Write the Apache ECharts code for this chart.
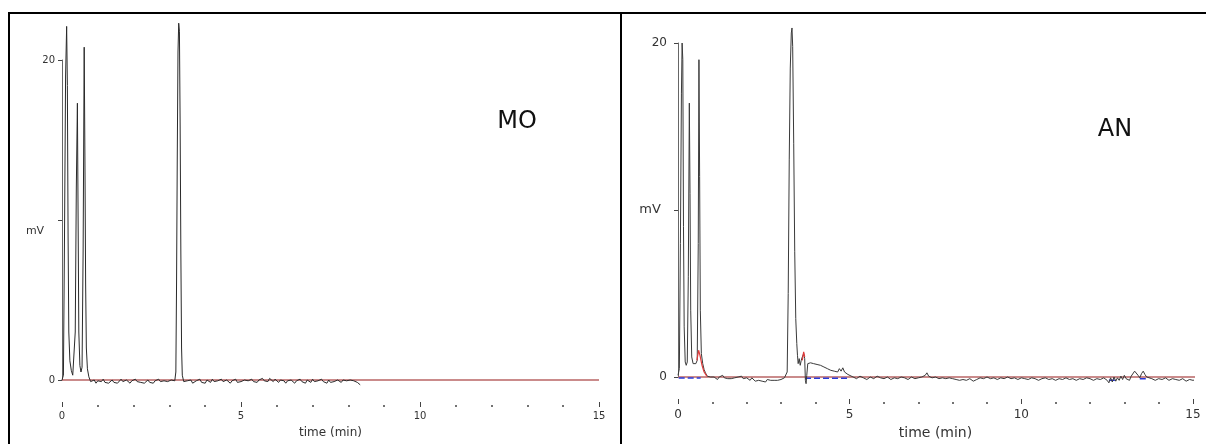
<!DOCTYPE html>
<html>
<head>
<meta charset="utf-8">
<script src="https://cdn.jsdelivr.net/npm/echarts@6/dist/echarts.min.js"></script>
<style>
  html, body { margin: 0; padding: 0; background: #fff; }
  #main { width: 1206px; height: 444px; }
</style>
</head>
<body>
<div id="main"></div>
<script>
// x axis ticks (min) and y ticks (mV)
var timeTicks = [0, 5, 10, 15];
var mvTicks = [0, 10, 20];

// MO chromatogram: [time, mV]
var moTrace = [
    [0.00,0.0],[0.04,0.3],[0.07,9],[0.10,19],[0.13,22.1],[0.15,18.4],[0.17,9],[0.19,3],[0.22,1.2],[0.26,0.6],
    [0.30,0.3],[0.34,0.4],[0.37,3],[0.40,12],[0.43,17.3],[0.45,10],[0.47,3],[0.50,0.9],[0.53,0.5],[0.56,0.8],
    [0.59,8],[0.62,20.8],[0.64,14],[0.66,6],[0.68,2],[0.71,0.7],[0.75,0.2],[0.80,-0.1],
    [0.85,-0.15],[0.90,0.00],[0.95,-0.20],[1.00,-0.05],[1.05,-0.15],[1.10,-0.10],[1.15,0.05],[1.20,-0.15],
    [1.25,-0.05],[1.30,-0.20],[1.35,-0.10],[1.40,0.00],[1.45,-0.15],[1.50,-0.05],[1.55,-0.20],[1.60,-0.10],
    [1.65,0.05],[1.70,-0.10],[1.75,-0.15],[1.80,0.00],[1.85,-0.10],[1.90,-0.20],[1.95,-0.05],[2.00,-0.15],
    [2.05,0.05],[2.10,-0.10],[2.15,-0.20],[2.20,-0.15],[2.25,-0.05],[2.30,-0.20],[2.35,-0.10],[2.40,0.00],
    [2.45,-0.15],[2.50,-0.10],[2.55,-0.20],[2.60,-0.05],[2.65,-0.15],[2.70,0.05],[2.75,-0.10],[2.80,-0.20],
    [2.85,-0.05],[2.90,-0.15],[2.95,-0.10],[3.00,-0.20],[3.05,0.00],[3.10,-0.10],[3.15,-0.05],
    [3.18,0.5],[3.20,6],[3.22,14],[3.24,20.5],[3.26,22.3],[3.28,21.8],[3.30,16],[3.32,8],[3.34,2],[3.36,0.3],
    [3.40,-0.10],[3.45,-0.20],[3.50,-0.05],[3.55,-0.15],[3.60,0.00],[3.65,-0.20],[3.70,-0.10],[3.75,-0.05],
    [3.80,-0.15],[3.85,0.05],[3.90,-0.15],[3.95,-0.10],[4.00,-0.20],[4.05,0.00],[4.10,-0.10],[4.15,-0.15],
    [4.20,0.05],[4.25,-0.10],[4.30,-0.20],[4.35,-0.05],[4.40,-0.15],[4.45,0.05],[4.50,-0.10],[4.55,-0.15],
    [4.60,0.00],[4.65,-0.10],[4.70,-0.20],[4.75,-0.05],[4.80,-0.10],[4.85,0.05],[4.90,-0.15],[4.95,-0.05],
    [5.00,-0.10],[5.05,-0.20],[5.10,0.00],[5.15,-0.10],[5.20,-0.05],[5.25,-0.15],[5.30,0.05],[5.35,-0.10],
    [5.40,-0.05],[5.45,-0.15],[5.50,0.00],[5.55,-0.10],[5.60,0.10],[5.65,-0.05],[5.70,0.05],[5.75,-0.10],
    [5.80,0.10],[5.85,0.00],[5.90,-0.10],[5.95,0.05],[6.00,-0.05],[6.05,-0.15],[6.10,0.00],[6.15,-0.10],
    [6.20,-0.05],[6.25,-0.20],[6.30,-0.05],[6.35,-0.15],[6.40,0.00],[6.45,-0.10],[6.50,-0.20],[6.55,-0.05],
    [6.60,-0.15],[6.65,0.05],[6.70,-0.10],[6.75,-0.05],[6.80,-0.20],[6.85,0.00],[6.90,-0.10],[6.95,-0.15],
    [7.00,0.05],[7.05,-0.10],[7.10,-0.20],[7.15,-0.05],[7.20,-0.15],[7.25,0.05],[7.30,-0.10],[7.35,-0.05],
    [7.40,-0.20],[7.45,0.00],[7.50,-0.15],[7.55,-0.05],[7.60,-0.10],[7.65,-0.20],[7.70,0.00],[7.75,-0.10],
    [7.80,-0.15],[7.85,0.00],[7.90,-0.10],[7.95,-0.05],[8.00,-0.15],[8.05,0.00],[8.10,0.10],[8.15,-0.05],
    [8.20,0.05],[8.25,-0.15],[8.30,-0.05],[8.33,-0.30]
];
var moBaseline = [[0, 0], [15, 0]];

// AN chromatogram: [time, mV]
var anTrace = [
    [0.00,0.1],[0.04,0.5],[0.07,8],[0.10,17],[0.12,20.0],[0.14,19],[0.16,9],[0.18,3],[0.21,0.9],[0.24,0.7],
    [0.27,0.9],[0.30,6],[0.33,16.4],[0.35,11],[0.37,4],[0.40,1.2],[0.44,0.8],[0.48,0.9],[0.52,0.8],[0.56,1.0],
    [0.59,8],[0.61,19.0],[0.63,12],[0.65,4],[0.68,1.4],[0.72,0.8],[0.76,0.45],
    [0.80,0.25],[0.85,0.05],[0.90,-0.05],[0.95,0.00],[1.00,-0.10],[1.05,0.00],[1.10,-0.05],[1.15,-0.15],
    [1.20,0.00],[1.25,-0.05],[1.30,0.10],[1.35,-0.05],[1.40,0.00],[1.45,-0.10],[1.50,-0.05],[1.55,-0.10],
    [1.60,0.00],[1.65,-0.05],[1.70,-0.15],[1.75,0.00],[1.80,-0.10],[1.85,0.05],[1.90,-0.10],[1.95,-0.20],
    [2.00,-0.05],[2.05,-0.10],[2.10,-0.20],[2.15,-0.05],[2.20,-0.10],[2.25,-0.25],[2.30,-0.15],[2.35,-0.20],
    [2.40,-0.10],[2.45,-0.25],[2.50,-0.20],[2.55,-0.30],[2.60,-0.15],[2.65,-0.25],[2.70,-0.20],[2.75,-0.10],
    [2.80,-0.20],[2.85,-0.15],[2.90,-0.20],[2.95,-0.10],[3.00,-0.15],[3.05,-0.10],[3.10,-0.05],[3.15,0.00],
    [3.18,0.3],[3.21,5],[3.24,13],[3.27,18.5],[3.30,20.6],[3.32,20.9],[3.34,19.8],[3.37,14],[3.40,7.5],[3.43,3.5],
    [3.46,2.0],[3.48,1.3],[3.50,0.8],[3.53,1.1],[3.56,0.7],[3.59,1.0],[3.62,1.2],[3.66,1.4],[3.69,1.1],[3.71,-0.2],
    [3.73,-0.4],[3.75,0.1],[3.78,0.8],[3.82,0.9],[3.86,0.85],[3.90,0.9],[3.95,0.8],[4.00,0.85],[4.05,0.75],[4.10,0.8],
    [4.15,0.7],[4.20,0.75],[4.25,0.6],[4.30,0.65],[4.35,0.5],[4.40,0.6],[4.45,0.4],[4.50,0.5],[4.55,0.35],[4.60,0.45],
    [4.65,0.3],[4.70,0.5],[4.75,0.35],[4.80,0.55],[4.85,0.3],[4.90,0.4],[4.95,0.15],[5.00,0.2],
    [5.10,0.00],[5.20,-0.10],[5.30,0.05],[5.40,-0.05],[5.50,-0.15],[5.60,0.00],[5.70,-0.10],[5.80,0.05],
    [5.90,-0.05],[6.00,-0.10],[6.10,0.00],[6.20,-0.15],[6.30,-0.05],[6.40,-0.10],[6.50,0.00],[6.60,-0.05],
    [6.70,-0.15],[6.80,0.00],[6.90,-0.10],[7.00,-0.05],[7.10,0.00],[7.20,0.10],[7.25,0.25],[7.30,0.05],
    [7.40,-0.05],[7.50,0.00],[7.60,-0.10],[7.70,-0.05],[7.80,-0.10],[7.90,-0.05],[8.00,-0.10],[8.10,-0.15],
    [8.20,-0.20],[8.30,-0.15],[8.40,-0.20],[8.50,-0.10],[8.60,-0.25],[8.70,-0.15],[8.80,-0.05],[8.90,-0.10],
    [9.00,0.00],[9.10,-0.10],[9.20,-0.05],[9.30,-0.15],[9.40,-0.05],[9.50,-0.10],[9.60,0.00],[9.70,-0.10],
    [9.80,-0.05],[9.90,-0.15],[10.00,-0.05],[10.10,-0.10],[10.20,-0.15],[10.30,-0.05],[10.40,-0.10],[10.50,-0.20],
    [10.60,-0.10],[10.70,-0.05],[10.80,-0.15],[10.90,-0.10],[11.00,-0.20],[11.10,-0.10],[11.20,-0.15],[11.30,-0.05],
    [11.40,-0.15],[11.50,-0.10],[11.60,-0.20],[11.70,-0.10],[11.80,-0.15],[11.90,-0.05],[12.00,-0.10],[12.10,-0.20],
    [12.20,-0.10],[12.30,-0.15],[12.40,-0.05],[12.50,-0.20],[12.55,-0.35],[12.60,-0.05],[12.65,-0.30],[12.70,0.00],
    [12.75,-0.25],[12.80,-0.05],[12.85,-0.20],[12.90,0.05],[12.95,-0.15],[13.00,0.10],[13.05,-0.10],[13.10,0.00],
    [13.15,-0.20],[13.20,0.05],[13.25,0.15],[13.30,0.35],[13.35,0.40],[13.40,0.10],[13.45,-0.05],[13.50,0.20],
    [13.55,0.35],[13.60,0.15],[13.65,0.00],[13.70,-0.05],[13.80,-0.10],[13.90,-0.20],[14.00,-0.10],[14.10,-0.15],
    [14.20,-0.05],[14.30,-0.20],[14.40,-0.10],[14.50,-0.15],[14.60,-0.20],[14.70,-0.10],[14.80,-0.25],[14.90,-0.15],
    [15.00,-0.20],[15.10,-0.15]
];
var anBaseline = [[0, 0], [15.1, 0]];
// integration baselines (blue) and peak fits (red), '-' = gap
var anBlue = [[0.02,-0.06],[0.66,-0.06],[0.67,'-'],[3.70,-0.08],[5.00,-0.08],[5.01,'-'],[12.55,-0.2],[12.75,-0.2],[12.76,'-'],[13.45,-0.1],[13.70,-0.1]];
var anRed = [[0.55,1.0],[0.60,1.6],[0.64,1.3],[0.70,0.7],[0.76,0.3],[0.84,0.05],[0.85,'-'],[3.62,1.0],[3.66,1.5],[3.69,1.2]];

var myChart = echarts.init(document.getElementById('main'));

var fontName = 'DejaVu Sans';

// hidden x axis of a data grid
function dataX(idx) {
    return { type: 'value', gridIndex: idx, min: 0, max: 15, interval: 5, show: false };
}

// visible time axis, in its own thin grid under the plot
function tickX(idx, fs, margin, gap) {
    return {
        type: 'value', gridIndex: idx, min: 0, max: 15, interval: 5,
        axisLine: { show: false },
        axisTick: { show: true, inside: true, length: 5, lineStyle: { color: '#444', width: 1 } },
        minorTick: { show: true, splitNumber: 5, length: 2, lineStyle: { color: '#444', width: 1.5 } },
        splitLine: { show: false },
        minorSplitLine: { show: false },
        axisLabel: { fontSize: fs, color: '#333', fontFamily: fontName, margin: margin, showMinLabel: true, showMaxLabel: true,
            formatter: function (v) { return timeTicks.indexOf(v) >= 0 ? String(v) : ''; } },
        name: 'time (min)', nameLocation: 'middle', nameGap: gap,
        nameTextStyle: { fontSize: fs + 2, color: '#333', fontFamily: fontName }
    };
}

function makeY(idx, fs, offset) {
    return {
        type: 'value', gridIndex: idx, min: 0, max: 20, interval: 10,
        offset: offset,
        axisLine: { show: true, lineStyle: { color: '#666', width: 1 } },
        axisTick: { show: true, length: 4, lineStyle: { color: '#444' } },
        splitLine: { show: false },
        axisLabel: { fontSize: fs, color: '#333', fontFamily: fontName, margin: 6,
            formatter: function (v) { return v === mvTicks[1] ? '' : String(v); } }
    };
}

function hiddenY(idx) {
    return { type: 'value', gridIndex: idx, min: 0, max: 1, show: false };
}

function line(name, data, xi, color, width, z, type) {
    return {
        name: name, type: 'line', xAxisIndex: xi, yAxisIndex: xi,
        data: data, showSymbol: false, symbol: 'none', clip: false,
        connectNulls: false, z: z, silent: true,
        lineStyle: { color: color, width: width, type: type || 'solid' }
    };
}

var option = {
    animation: false,
    backgroundColor: '#ffffff',
    grid: [
        { left: 62, right: 607, top: 60, bottom: 64, containLabel: false, outerBoundsMode: 'none' },
        { left: 678, right: 13, top: 43, bottom: 67, containLabel: false, outerBoundsMode: 'none' },
        { left: 62, right: 607, top: 395, bottom: 37, containLabel: false, outerBoundsMode: 'none' },
        { left: 678, right: 13, top: 392, bottom: 40, containLabel: false, outerBoundsMode: 'none' }
    ],
    xAxis: [dataX(0), dataX(1), tickX(2, 10, 4, 20), tickX(3, 12, 5, 22)],
    yAxis: [makeY(0, 10, 1), makeY(1, 12, 5), hiddenY(2), hiddenY(3)],
    series: [
        line('MO baseline', moBaseline, 0, '#b86464', 1.6, 2),
        line('MO', moTrace, 0, '#2a2a2a', 1, 3),
        line('AN baseline', anBaseline, 1, '#b86464', 1.6, 2),
        line('AN blue', anBlue, 1, '#2a3ad8', 1.5, 3, 'dashed'),
        line('AN', anTrace, 1, '#3a3a3a', 1, 4),
        line('AN fit', anRed, 1, '#e03a3a', 1.2, 5)
    ],
    graphic: [
        { type: 'line', shape: { x1: 8, y1: 13, x2: 1206, y2: 13 }, style: { stroke: '#000', lineWidth: 2 } },
        { type: 'line', shape: { x1: 9, y1: 13, x2: 9, y2: 444 }, style: { stroke: '#000', lineWidth: 2 } },
        { type: 'line', shape: { x1: 621, y1: 13, x2: 621, y2: 444 }, style: { stroke: '#000', lineWidth: 2 } },
        { type: 'text', x: 517, y: 122, style: { text: 'MO', fontSize: 24, fontFamily: fontName, fill: '#111', align: 'center', verticalAlign: 'middle' } },
        { type: 'text', x: 1115, y: 130, style: { text: 'AN', fontSize: 24, fontFamily: fontName, fill: '#111', align: 'center', verticalAlign: 'middle' } },
        { type: 'text', x: 35, y: 231, style: { text: 'mV', fontSize: 11, fontFamily: fontName, fill: '#333', align: 'center', verticalAlign: 'middle' } },
        { type: 'text', x: 650, y: 210, style: { text: 'mV', fontSize: 13, fontFamily: fontName, fill: '#333', align: 'center', verticalAlign: 'middle' } }
    ]
};

myChart.setOption(option);
</script>
</body>
</html>
